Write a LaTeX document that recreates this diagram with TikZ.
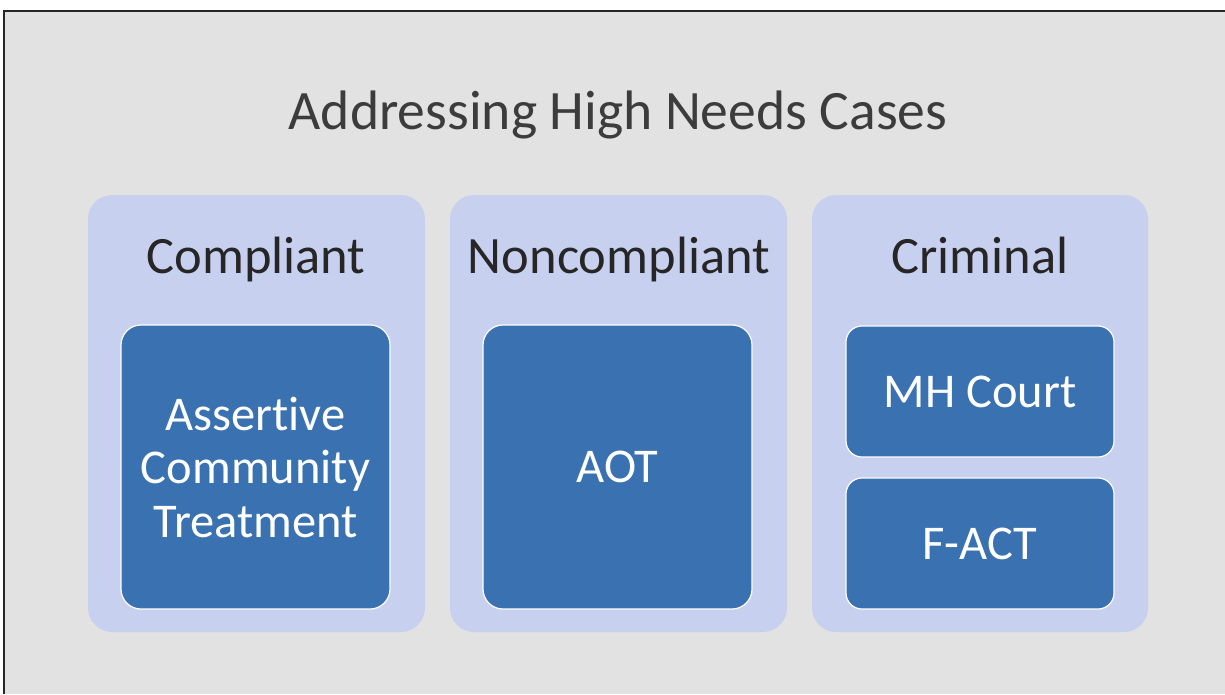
\documentclass[tikz,border=0pt]{standalone}
\usepackage{fontspec}
\setmainfont{Carlito}[Ligatures=NoCommon]
\definecolor{bggray}{HTML}{E2E2E2}
\definecolor{panelblue}{HTML}{C8D0F0}
\definecolor{boxblue}{HTML}{3A72B1}
\definecolor{darktext}{HTML}{262626}
\tikzset{
  panel/.style={fill=panelblue, draw=none, rounded corners=24pt},
  innerbox/.style={fill=boxblue, draw=white, line width=1.2pt, rounded corners=20pt, text=white, align=center, font=\fontsize{48.5}{53.5}\selectfont, inner sep=0pt},
  header/.style={text=darktext, font=\fontsize{52.5}{58}\selectfont, inner sep=0pt, anchor=base},
}
\begin{document}
\begin{tikzpicture}[x=1pt,y=-1pt]
\useasboundingbox (0,0) rectangle (1225,694);
\fill[white] (0,0) rectangle (1225,694);
\fill[bggray] (4,11) rectangle (1225,694);
\draw[line width=2pt, black!85] (4,694) -- (4,11) -- (1225,11);
\node[text=darktext!90, font=\fontsize{55.6}{60}\selectfont, inner sep=0pt, anchor=base] (title) at (618,129) {Addressing High Needs Cases};
% panels
\path[panel] (88,195) rectangle (425,632);
\path[panel] (450,195) rectangle (787,632);
\path[panel] (812,195) rectangle (1148,632);
\node[header] (h1) at (256,273) {Compliant};
\node[header] (h2) at (619,273) {Noncompliant};
\node[header] (h3) at (980,273) {Criminal};
% inner boxes
\node[innerbox, minimum width=269pt, minimum height=284pt] (act) at (255.5,467) {Assertive\\Community\\Treatment};
\node[innerbox, minimum width=269pt, minimum height=284pt] (aot) at (617.5,467) {AOT};
\node[innerbox, minimum width=268pt, minimum height=131pt, rounded corners=16pt] (mh) at (980,391.5) {MH Court};
\node[innerbox, minimum width=268pt, minimum height=131pt, rounded corners=16pt] (fact) at (980,543.5) {F-ACT};
\end{tikzpicture}
\end{document}
